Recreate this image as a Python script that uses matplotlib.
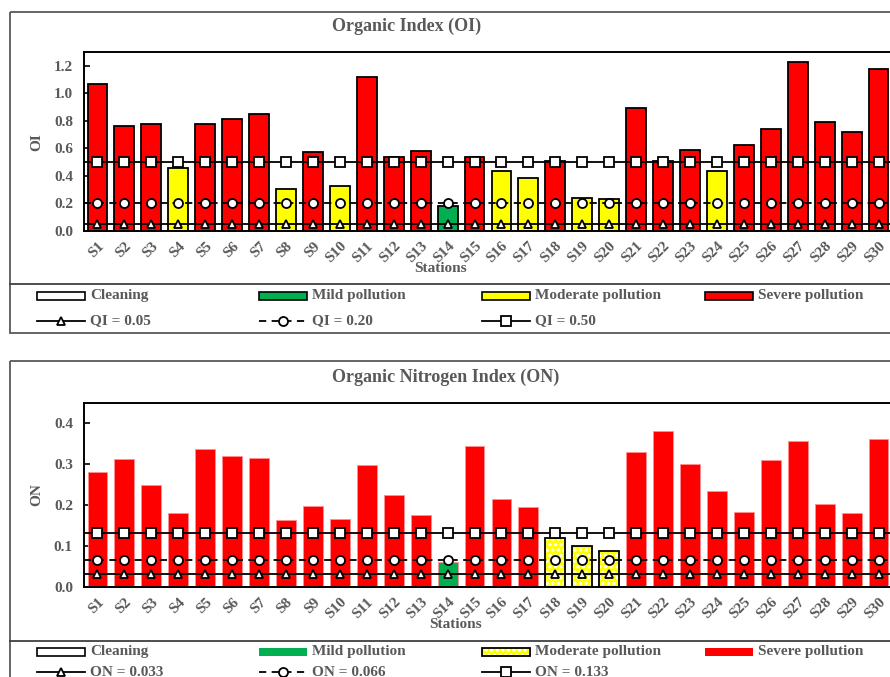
import numpy as np
import matplotlib.pyplot as plt
from matplotlib.patches import Rectangle

plt.rcParams['font.family'] = ['Liberation Serif', 'DejaVu Serif']
plt.rcParams['font.weight'] = 'bold'
plt.rcParams['hatch.linewidth'] = 1.6

# ---- data ----
stations = [f"S{i}" for i in range(1, 31)]

oi_values = [1.067, 0.764, 0.780, 0.460, 0.780, 0.815, 0.849, 0.305, 0.572, 0.330,
             1.115, 0.540, 0.582, 0.184, 0.538, 0.439, 0.388, 0.507, 0.240, 0.233,
             0.892, 0.511, 0.589, 0.436, 0.628, 0.744, 1.231, 0.788, 0.718, 1.176]
# C = cleaning, L = mild, M = moderate, S = severe
oi_class = ['S', 'S', 'S', 'M', 'S', 'S', 'S', 'M', 'S', 'M',
            'S', 'S', 'S', 'L', 'S', 'M', 'M', 'S', 'M', 'M',
            'S', 'S', 'S', 'M', 'S', 'S', 'S', 'S', 'S', 'S']
oi_thresholds = [0.05, 0.20, 0.50]
oi_thr_labels = ['QI = 0.05', 'QI = 0.20', 'QI = 0.50']

on_values = [0.281, 0.312, 0.250, 0.180, 0.337, 0.321, 0.316, 0.164, 0.198, 0.167,
             0.298, 0.224, 0.176, 0.061, 0.345, 0.214, 0.195, 0.119, 0.100, 0.087,
             0.329, 0.381, 0.302, 0.234, 0.183, 0.310, 0.358, 0.202, 0.180, 0.361]
on_class = ['S', 'S', 'S', 'S', 'S', 'S', 'S', 'S', 'S', 'S',
            'S', 'S', 'S', 'L', 'S', 'S', 'S', 'M', 'M', 'M',
            'S', 'S', 'S', 'S', 'S', 'S', 'S', 'S', 'S', 'S']
on_thresholds = [0.033, 0.066, 0.133]
on_thr_labels = ['ON = 0.033', 'ON = 0.066', 'ON = 0.133']

class_names = ['Cleaning', 'Mild pollution', 'Moderate pollution', 'Severe pollution']
class_colors = {'C': '#FFFFFF', 'L': '#00B050', 'M': '#FFFF00', 'S': '#FF0000'}

grey = '#595959'
thr_styles = [('-', '^'), ((0, (4, 3)), 'o'), ('-', 's')]

W, H = 890, 677
fig = plt.figure(figsize=(W / 100, H / 100), dpi=100)

# overlay in pixel coordinates for frames, titles and legends
fr = fig.add_axes([0, 0, 1, 1], zorder=-1)
fr.set_xlim(0, W)
fr.set_ylim(H, 0)
fr.axis('off')


def px_axes(left, top, right, bottom):
    return fig.add_axes([left / W, 1 - bottom / H, (right - left) / W, (bottom - top) / H])


def draw_panel(ax, values, classes, thresholds, ylim, yticks, edged, hatch_mod):
    x = np.arange(len(values))
    for xi, v, c in zip(x, values, classes):
        if c == 'M' and hatch_mod:
            ax.bar(xi, v, width=0.74, color=class_colors[c], edgecolor='white',
                   hatch='...', linewidth=0, zorder=2)
            ax.bar(xi, v, width=0.74, fill=False, edgecolor='black', linewidth=1.3, zorder=2)
        elif edged:
            ax.bar(xi, v, width=0.74, color=class_colors[c], edgecolor='black',
                   linewidth=1.3, zorder=2)
        else:
            ax.bar(xi, v, width=0.74, color=class_colors[c], edgecolor='#FF9090',
                   linewidth=0.6, zorder=2)
    for t, (ls, mk) in zip(thresholds, thr_styles):
        ax.axhline(t, color='black', linestyle=ls, linewidth=1.3, zorder=3)
        ax.plot(x, [t] * len(x), linestyle='none', marker=mk, markersize=6.5 if mk != '^' else 6,
                markerfacecolor='white', markeredgecolor='black', markeredgewidth=1.3, zorder=4)
    ax.set_xlim(-0.5, len(values) - 0.5)
    ax.set_ylim(*ylim)
    ax.set_yticks(yticks)
    ax.set_yticklabels([f"{t:.1f}" for t in yticks])
    ax.set_xticks(x)
    ax.set_xticklabels(stations, rotation=45, ha='right', rotation_mode='anchor')
    ax.tick_params(axis='y', direction='in', length=4, width=1.2, labelsize=11,
                   labelcolor=grey, pad=8)
    ax.tick_params(axis='x', length=0, labelsize=11, labelcolor=grey, pad=6)
    for s in ax.spines.values():
        s.set_linewidth(1.4)
        s.set_color('black')


def draw_legend(y_top, rows, thr_labels, edged, hatch_mod):
    fr.plot([10, W], [y_top, y_top], color='#404040', linewidth=1.3)
    cols = [37, 259, 482, 705]
    r1, r2 = rows
    for i, (code, name) in enumerate(zip(['C', 'L', 'M', 'S'], class_names)):
        x0 = cols[i]
        if code == 'M' and hatch_mod:
            fr.add_patch(Rectangle((x0, r1 - 4), 48, 8, facecolor=class_colors[code],
                                   edgecolor='white', hatch='...', linewidth=0))
            fr.add_patch(Rectangle((x0, r1 - 4), 48, 8, fill=False, edgecolor='black',
                                   linewidth=1.3))
        else:
            ec = 'black' if (edged or code in 'CM') else 'none'
            fr.add_patch(Rectangle((x0, r1 - 4), 48, 8, facecolor=class_colors[code],
                                   edgecolor=ec, linewidth=1.2))
        fr.text(x0 + 53, r1, name, fontsize=11, color=grey, va='center', ha='left')
    for i, (lab, (ls, mk)) in enumerate(zip(thr_labels, thr_styles)):
        x0 = cols[i]
        fr.plot([x0, x0 + 48], [r2, r2], color='black', linestyle=ls, linewidth=1.3)
        fr.plot([x0 + 24], [r2], marker=mk, markersize=6.5 if mk != '^' else 6,
                markerfacecolor='white', markeredgecolor='black', markeredgewidth=1.3)
        fr.text(x0 + 53, r2, lab, fontsize=11, color=grey, va='center', ha='left')


# ---- top panel: OI ----
fr.add_patch(Rectangle((10, 12), W + 10, 321, fill=False, edgecolor=grey, linewidth=1.3))
fr.text(332, 26, 'Organic Index (OI)', fontsize=13, color=grey, ha='left', va='center')
ax1 = px_axes(84, 52, 892, 231)
draw_panel(ax1, oi_values, oi_class, oi_thresholds, (0, 1.3),
           [0.0, 0.2, 0.4, 0.6, 0.8, 1.0, 1.2], edged=True, hatch_mod=False)
fr.text(414, 268, 'Stations', fontsize=11, color=grey, ha='left', va='center')
fr.text(37, 142, 'OI', fontsize=11, color=grey, ha='center', va='center', rotation=90)
draw_legend(284, (296, 321), oi_thr_labels, edged=True, hatch_mod=False)

# ---- bottom panel: ON ----
fr.add_patch(Rectangle((10, 361), W + 10, 340, fill=False, edgecolor=grey, linewidth=1.3))
fr.text(332, 377, 'Organic Nitrogen Index (ON)', fontsize=13, color=grey, ha='left', va='center')
ax2 = px_axes(84, 403, 892, 587)
draw_panel(ax2, on_values, on_class, on_thresholds, (0, 0.45),
           [0.0, 0.1, 0.2, 0.3, 0.4], edged=False, hatch_mod=True)
fr.text(429, 625, 'Stations', fontsize=11, color=grey, ha='left', va='center')
fr.text(37, 495, 'ON', fontsize=11, color=grey, ha='center', va='center', rotation=90)
draw_legend(641, (652, 672), on_thr_labels, edged=False, hatch_mod=True)

fig.savefig('out.png', dpi=100)
